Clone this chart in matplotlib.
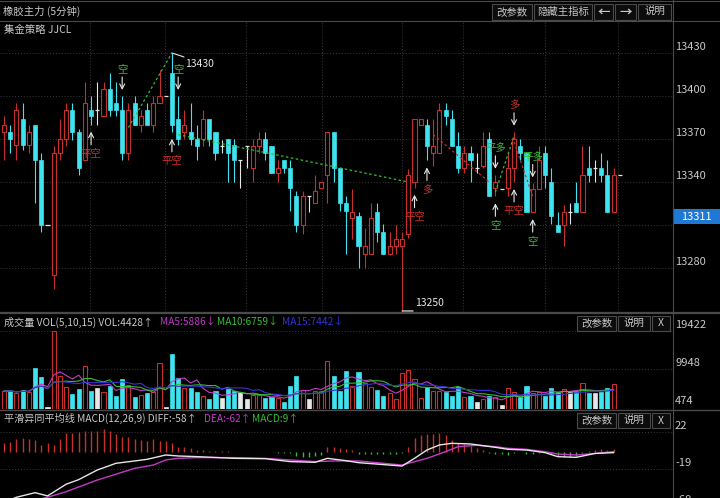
import matplotlib
matplotlib.use("Agg")
import matplotlib.pyplot as plt
import matplotlib.transforms as mtransforms
from matplotlib.lines import Line2D
from matplotlib.patches import Rectangle
import pandas as pd

plt.rcParams["font.family"] = ["Noto Sans CJK SC", "DejaVu Sans"]

# ---- 5-minute candles (index 0 = leftmost) ----
opens = [13375, 13375, 13366, 13384, 13366, 13380, 13355, 13310, 13275, 13360,
         13370, 13390, 13375, 13355, 13390, 13390, 13386, 13405, 13395, 13390,
         13360, 13395, 13380, 13390, 13380, 13395, 13400, 13416, 13384, 13375,
         13375, 13370, 13370, 13384, 13375, 13365, 13370, 13366, 13355, 13365,
         13350, 13365, 13370, 13365, 13346, 13355, 13350, 13330, 13310, 13330,
         13325, 13336, 13345, 13375, 13350, 13325, 13315, 13316, 13290, 13290,
         13319, 13305, 13290, 13295, 13295, 13304, 13340, 13380, 13380, 13360,
         13360, 13390, 13384, 13365, 13350, 13360, 13350, 13351, 13370, 13336,
         13335, 13336, 13350, 13365, 13360, 13319, 13335, 13360, 13340, 13310,
         13310, 13319, 13325, 13319, 13350, 13350, 13350, 13345, 13319]
highs = [13386, 13380, 13395, 13395, 13380, 13380, 13360, 13310, 13365, 13384,
         13395, 13395, 13377, 13410, 13400, 13410, 13410, 13416, 13410, 13400,
         13395, 13400, 13390, 13395, 13400, 13418, 13400, 13430, 13400, 13390,
         13395, 13380, 13390, 13384, 13375, 13369, 13370, 13370, 13355, 13365,
         13370, 13375, 13375, 13365, 13355, 13355, 13355, 13334, 13334, 13330,
         13345, 13340, 13375, 13375, 13350, 13330, 13335, 13319, 13308, 13325,
         13325, 13311, 13305, 13310, 13305, 13349, 13384, 13384, 13384, 13384,
         13395, 13395, 13390, 13375, 13365, 13365, 13360, 13375, 13375, 13345,
         13335, 13360, 13375, 13370, 13360, 13339, 13365, 13365, 13350, 13319,
         13324, 13325, 13340, 13365, 13365, 13355, 13360, 13355, 13350]
lows = [13355, 13360, 13355, 13362, 13360, 13325, 13305, 13310, 13265, 13355,
        13365, 13369, 13345, 13355, 13380, 13380, 13386, 13386, 13386, 13355,
        13355, 13380, 13375, 13380, 13375, 13395, 13400, 13375, 13366, 13370,
        13366, 13355, 13365, 13365, 13355, 13360, 13340, 13340, 13336, 13350,
        13340, 13360, 13355, 13346, 13340, 13346, 13320, 13305, 13304, 13319,
        13325, 13336, 13325, 13340, 13320, 13290, 13300, 13280, 13280, 13290,
        13298, 13290, 13289, 13290, 13250, 13301, 13336, 13380, 13355, 13351,
        13360, 13380, 13365, 13346, 13346, 13340, 13346, 13350, 13330, 13330,
        13335, 13330, 13340, 13355, 13319, 13319, 13335, 13336, 13311, 13305,
        13295, 13311, 13319, 13319, 13340, 13340, 13340, 13319, 13319]
closes = [13380, 13370, 13390, 13366, 13375, 13355, 13310, 13310, 13360, 13370,
          13390, 13375, 13350, 13395, 13386, 13390, 13405, 13390, 13390, 13360,
          13390, 13380, 13386, 13380, 13395, 13400, 13400, 13380, 13370, 13380,
          13370, 13365, 13384, 13370, 13360, 13365, 13360, 13355, 13355, 13365,
          13365, 13370, 13360, 13346, 13350, 13350, 13336, 13310, 13330, 13330,
          13334, 13340, 13375, 13350, 13325, 13320, 13319, 13295, 13295, 13315,
          13305, 13290, 13295, 13300, 13300, 13345, 13384, 13384, 13365, 13365,
          13390, 13386, 13365, 13350, 13360, 13355, 13350, 13365, 13330, 13340,
          13335, 13350, 13370, 13360, 13319, 13335, 13355, 13345, 13316, 13305,
          13319, 13319, 13319, 13345, 13345, 13350, 13345, 13319, 13345]
last_tick = 13345

volumes = [4399, 4399, 3818, 4648, 4233, 10043, 7968, 300, 19422, 8134,
           5478, 3652, 4980, 10707, 4399, 5229, 4233, 5644, 3154, 7304,
           5893, 2822, 3403, 3984, 4233, 11454, 400, 13529, 7553, 5229,
           5229, 4233, 3154, 2324, 4399, 2573, 4814, 4399, 4233, 2490,
           3403, 3403, 2573, 2822, 2573, 1743, 5644, 8134, 4648, 2324,
           4399, 4399, 11952, 8134, 4399, 9379, 5644, 9213, 6308, 5312,
           4648, 3154, 3818, 2324, 8798, 9628, 7304, 2573, 5312, 4482,
           4482, 4233, 3154, 5312, 2988, 3154, 1743, 2324, 3154, 2822,
           913, 5063, 4233, 2822, 5644, 3984, 4233, 3154, 5063, 4233,
           4814, 4233, 4233, 6308, 3818, 3984, 4233, 5063, 6142]

macd_hist = [10, 11, 13.6, 14.8, 13.6, 12.9, 7.4, 9.2, 7.4, 13.6,
             20.3, 21, 22, 23.2, 23.2, 23.2, 24.7, 23.2, 19.6, 16.6,
             16.6, 13.6, 12.9, 12.2, 13.6, 12.2, 12.2, 10, 5.5, 4.8,
             3.7, 1.5, 1.5, 1, 1, 0.8, 0.5, -0.5, -0.8, -0.8,
             -0.5, -0.5, -0.5, -0.8, -1, -1, -2, -4.8, -5.5, -5.5,
             -4.8, -3.7, 4.8, 4.8, 3.7, 3, 1.5, -2.5, -2.2, -2.6,
             -2.6, -2.6, -2.2, -2.2, -1.5, 5.5, 14.8, 18.5, 19.6, 19.6,
             20.3, 18.5, 12.9, 10, 8.5, 6.3, 3.7, 1.8, -1.8, -2.2,
             -3, -3.7, -1.5, -0.8, -2.2, -2.6, -1.5, -0.8, -2.6, -4.4,
             -5.5, -5.5, -4.4, -1.5, 0.8, 1.8, 2.6, 1.8, 3]
diff_x = [0, 2, 5, 7, 10, 12, 15, 18, 21, 23, 26, 28, 31, 37, 42, 46, 50, 52, 55, 57,
          64, 66, 68, 70, 72, 75, 79, 81, 84, 87, 89, 92, 95, 98]
diff_y = [-56, -50.5, -45.4, -49, -36, -31, -20.3, -12.9, -10.3, -8.5, -3.7, -4.8, -5.5,
          -7.4, -7.8, -11, -11.8, -7.4, -10, -12.2, -15.9, -7.4, 1.8, 7.4, 9.2, 8.5,
          4.8, 2.6, 1.8, -1.1, -5.5, -6.3, -2, -1.1]
dea_x = [0, 7, 10, 15, 21, 24, 26, 28, 31, 37, 42, 46, 50, 53, 57, 64, 68, 71, 73, 76,
         79, 81, 84, 87, 89, 92, 95, 98]
dea_y = [-62, -50.5, -44.3, -31.4, -18.5, -14.8, -9.2, -7.4, -6.6, -6.6, -7.4, -9.2, -11,
         -10.3, -10.3, -14.8, -7.4, 0, 5.5, 7, 5.5, 3.7, 2.6, 0, -2.6, -3.7, -2, 0]

# trade signals of the JJCL strategy
sig_idx = [19, 28, 14, 27, 68, 66, 82, 79, 85, 82, 79, 85]
sig_text = ["空", "空", "平空", "平空", "多", "平空", "多", "平多", "平多", "平空", "空", "空"]
sig_side = ["up", "up", "dn", "dn", "dn", "dn", "up", "up", "up", "dn", "dn", "dn"]

# zigzag segments (index pairs, price pairs)
zz_x = [[20, 27], [28, 65], [69, 78], [79, 82], [82, 85]]
zz_y = [[13378, 13430], [13373, 13340], [13373, 13340], [13333, 13372], [13368, 13330]]
zz_c = ["g", "g", "r", "g", "r"]

price_ticks = [13430, 13400, 13370, 13340, 13310, 13280]
price_labels = [13430, 13400, 13370, 13340, 13280]
vol_ticks = [19422, 9948, 474]
macd_ticks = [22, -19, -60]
vgrid = [13.8, 25.9, 38.9, 51.1, 64, 73.8, 87, 98.7]
last_price = 13311
max_idx, min_idx = 27, 64

RED = "#c8302c"
CYAN = "#3fe3ef"
WHITE = "#e6e6e6"
GREEN = "#33c033"
MAG = "#c23cc8"
BLUE = "#3434d4"
TXT = "#c8c8c8"
GRID = "#3a3a3a"
SEP = "#4a4a4a"

W, H = 720, 498
RIGHT = 673
fig = plt.figure(figsize=(7.2, 4.98), dpi=100, facecolor="black")


def fx(x):
    return x / W


def fy(y):
    return 1 - y / H


x_left = -4 / 6.22
x_right = (RIGHT - 4) / 6.22

ax_k = fig.add_axes([0, fy(312), fx(RIGHT), (312 - 21) / H])
ax_v = fig.add_axes([0, fy(409), fx(RIGHT), (409 - 313) / H])
ax_m = fig.add_axes([0, 0, fx(RIGHT), (498 - 410) / H])
for ax in (ax_k, ax_v, ax_m):
    ax.set_xlim(x_left, x_right)
    ax.set_axis_off()
ax_k.set_ylim(13249.3, 13452.3)
ax_v.set_ylim(-83, 23821)
ax_m.set_ylim(-51.3, 46.1)

gstyle = dict(color=GRID, lw=0.7, ls=(0, (1, 2)), zorder=0)
for p in price_ticks:
    ax_k.axhline(p, **gstyle)
for g in vgrid:
    ax_k.axvline(g, **gstyle)
for v in vol_ticks[:2]:
    ax_v.axhline(v, **gstyle)
for m in macd_ticks[:2]:
    ax_m.axhline(m, **gstyle)

# ---- candles + volume ----
bw = 0.66
for i, (o, h, l, c) in enumerate(zip(opens, highs, lows, closes)):
    v = volumes[i]
    if c > o:
        ax_k.vlines(i, c, h, color=RED, lw=0.8, zorder=2)
        ax_k.vlines(i, l, o, color=RED, lw=0.8, zorder=2)
        ax_k.add_patch(Rectangle((i - bw / 2, o), bw, c - o, fc="black", ec=RED, lw=0.8, zorder=3))
        ax_v.add_patch(Rectangle((i - bw / 2, 0), bw, v, fc="black", ec=RED, lw=0.8, zorder=3))
    elif c < o:
        ax_k.vlines(i, l, h, color=CYAN, lw=0.8, zorder=2)
        ax_k.add_patch(Rectangle((i - bw / 2, c), bw, o - c, fc=CYAN, ec=CYAN, lw=0.5, zorder=3))
        ax_v.add_patch(Rectangle((i - bw / 2, 0), bw, v, fc=CYAN, ec=CYAN, lw=0.5, zorder=3))
    else:
        ax_k.vlines(i, l, h, color=WHITE, lw=0.8, zorder=2)
        ax_k.hlines(o, i - bw / 2, i + bw / 2, color=WHITE, lw=0.9, zorder=3)
        ax_v.add_patch(Rectangle((i - bw / 2, 0), bw, v, fc=WHITE, ec=WHITE, lw=0.5, zorder=3))
n = len(closes)
ax_k.hlines(last_tick, n - bw / 2, n + bw / 2, color=WHITE, lw=0.9, zorder=3)

# zigzag lines
for xs, ys, c in zip(zz_x, zz_y, zz_c):
    ax_k.plot(xs, ys, color=GREEN if c == "g" else RED, lw=0.9, ls=(0, (2, 2)), zorder=4)


def off(ax, dx=0, dy=0):
    return mtransforms.offset_copy(ax.transData, fig=fig, x=dx, y=dy, units="dots")


arrow = dict(arrowstyle="->,head_length=0.35,head_width=0.18", color=WHITE, lw=0.8,
             shrinkA=0, shrinkB=0)
for i, s, side in zip(sig_idx, sig_text, sig_side):
    col = GREEN if s in ("空", "平多") else RED
    if side == "up":
        y0 = highs[i]
        ax_k.annotate("", xy=(i, y0), xycoords=off(ax_k, dy=6), xytext=(i, y0),
                      textcoords=off(ax_k, dy=19), arrowprops=arrow, zorder=6)
        ax_k.text(i, y0, s, transform=off(ax_k, dy=27), ha="center", va="center",
                  color=col, fontsize=7.5, zorder=6)
    else:
        y0 = lows[i]
        ax_k.annotate("", xy=(i, y0), xycoords=off(ax_k, dy=-7), xytext=(i, y0),
                      textcoords=off(ax_k, dy=-20), arrowprops=arrow, zorder=6)
        ax_k.text(i, y0, s, transform=off(ax_k, dy=-29), ha="center", va="center",
                  color=col, fontsize=7.5, zorder=6)

# max / min markers
pk = highs[max_idx]
ax_k.annotate("", xy=(max_idx, pk), xycoords=off(ax_k, 12, -4), xytext=(max_idx, pk),
              textcoords=off(ax_k), arrowprops=dict(arrowstyle="-", color=WHITE, lw=0.8,
                                                    shrinkA=0, shrinkB=0))
ax_k.text(max_idx, pk, str(pk), transform=off(ax_k, 13, -11), ha="left", va="center",
          color=WHITE, fontsize=7.5)
lo = lows[min_idx]
ax_k.annotate("", xy=(min_idx, lo), xycoords=off(ax_k, 11, 0), xytext=(min_idx, lo),
              textcoords=off(ax_k), arrowprops=dict(arrowstyle="-", color=WHITE, lw=0.9,
                                                    shrinkA=0, shrinkB=0),
              annotation_clip=False)
ax_k.text(min_idx, lo, str(lo), transform=off(ax_k, 13, 8), ha="left", va="center",
          color=WHITE, fontsize=7.5)

# ---- volume MAs ----
vol = pd.Series(volumes)
for win, col in [(5, MAG), (10, GREEN), (15, BLUE)]:
    ax_v.plot(range(n), vol.rolling(win, min_periods=1).mean(), color=col, lw=0.8, zorder=4)

# ---- MACD ----
for i, h in enumerate(macd_hist):
    ax_m.vlines(i, 0, h, color=RED if h > 0 else GREEN, lw=1.0, zorder=2)
ax_m.plot(dea_x, dea_y, color=MAG, lw=1.0, zorder=3)
ax_m.plot(diff_x, diff_y, color=WHITE, lw=1.0, zorder=4)


# ---- right-hand scale labels ----
def right_labels(ax, ticks):
    tr = mtransforms.blended_transform_factory(ax.transAxes, ax.transData)
    tr = mtransforms.offset_copy(tr, fig=fig, x=2, y=6, units="dots")
    for t in ticks:
        ax.text(1.0, t, str(t), transform=tr, ha="left", va="center", color=TXT,
                fontsize=8, clip_on=False)


right_labels(ax_k, price_labels)
right_labels(ax_v, vol_ticks)
right_labels(ax_m, macd_ticks)

tr_k = mtransforms.blended_transform_factory(ax_k.transAxes, ax_k.transData)
box_h = 15 / 1.4333
ax_k.add_patch(Rectangle((1.0, last_price + 7 / 1.4333 - box_h / 2), (W - RIGHT) / RIGHT, box_h,
                         transform=tr_k, fc="#1f78d4", ec="none", clip_on=False, zorder=8))
ax_k.text(1.0 + (W - RIGHT) / RIGHT / 2, last_price, str(last_price),
          transform=mtransforms.offset_copy(tr_k, fig=fig, y=7, units="dots"),
          ha="center", va="center", color="white", fontsize=8, zorder=9, clip_on=False)

# ---- frame lines ----
for (x0, y0, x1, y1, lw) in [(0, 1, W, 1, 0.8), (0, 21, W, 21, 0.8), (0, 313, W, 313, 1.6),
                             (0, 409.5, W, 409.5, 1.0), (RIGHT, 0, RIGHT, H, 0.8)]:
    fig.add_artist(Line2D([fx(x0), fx(x1)], [fy(y0), fy(y1)], color=SEP, lw=lw,
                          transform=fig.transFigure))


def button(x0, y0, x1, y1, label, fs=7.5, weight="normal"):
    fig.add_artist(Rectangle((fx(x0), fy(y1)), fx(x1) - fx(x0), fy(y0) - fy(y1),
                             transform=fig.transFigure, fc="#0c0c0c", ec=SEP, lw=0.8))
    fig.text(fx((x0 + x1) / 2), fy((y0 + y1) / 2), label, ha="center", va="center",
             color=TXT, fontsize=fs, fontweight=weight)


button(492, 4, 532, 20, "改参数")
button(534, 4, 592, 20, "隐藏主指标")
button(594, 4, 613, 20, "←", fs=9, weight="bold")
button(615, 4, 636, 20, "→", fs=9, weight="bold")
button(638, 4, 671, 20, "说明")
for yt in (316, 413):
    button(577, yt, 616, yt + 15, "改参数")
    button(618, yt, 650, yt + 15, "说明")
    button(652, yt, 670, yt + 15, "X")

fig.text(fx(3), fy(11.5), "橡胶主力 (5分钟)", ha="left", va="center", color=TXT, fontsize=7.5)
fig.text(fx(4), fy(30), "集金策略 JJCL", ha="left", va="center", color=TXT, fontsize=7.5)

vol_title = [("成交量 VOL(5,10,15) VOL:4428↑", TXT, 4), ("MA5:5886↓", MAG, 160),
             ("MA10:6759↓", GREEN, 217), ("MA15:7442↓", BLUE, 282)]
for s, col, x in vol_title:
    fig.text(fx(x), fy(322), s, ha="left", va="center", color=col, fontsize=7.3)
macd_title = [("平滑异同平均线 MACD(12,26,9) DIFF:-58↑", TXT, 4), ("DEA:-62↑", MAG, 204),
              ("MACD:9↑", GREEN, 252)]
for s, col, x in macd_title:
    fig.text(fx(x), fy(418.5), s, ha="left", va="center", color=col, fontsize=7.3)

fig.savefig("out.png", dpi=100, facecolor="black")
